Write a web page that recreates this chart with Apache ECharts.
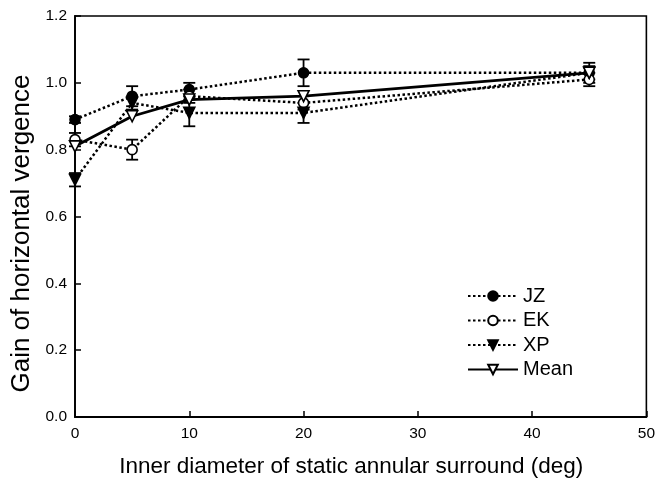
<!DOCTYPE html>
<html><head><meta charset="utf-8">
<script src="https://cdn.jsdelivr.net/npm/echarts@6/dist/echarts.min.js"></script>
<style>html,body{margin:0;padding:0;background:#fff}#c{width:658px;height:483px}</style>
</head><body><div id="c"></div>
<script>
const xs = [0, 5, 10, 20, 45];
const jz = [0.89, 0.96, 0.98, 1.03, 1.03];
const jzErr = [0.01, 0.03, 0.02, 0.04, 0.03];
const ek = [0.83, 0.80, 0.96, 0.94, 1.01];
const ekErr = [0.02, 0.03, 0.02, 0.02, 0.02];
const xp = [0.71, 0.94, 0.91, 0.91, 1.03];
const xpErr = [0.02, 0.02, 0.04, 0.03, 0.02];
const mean = [0.81, 0.90, 0.95, 0.96, 1.03];
const xTicks = [0, 10, 20, 30, 40, 50];
const yTicks = [0.0, 0.2, 0.4, 0.6, 0.8, 1.0, 1.2];

const FONT = 'Liberation Sans, Arial, sans-serif';
const pts = v => xs.map((x, i) => [x, v[i]]);
const errs = (v, e) => xs.map((x, i) => [x, v[i] - e[i], v[i] + e[i]]);

function errSeries(v, e) {
  return {
    type: 'custom', silent: true, z: 1,
    data: errs(v, e),
    renderItem: function (params, api) {
      const lo = api.coord([api.value(0), api.value(1)]);
      const hi = api.coord([api.value(0), api.value(2)]);
      const w = 6;
      const st = { stroke: '#000', lineWidth: 1.8 };
      return { type: 'group', children: [
        { type: 'line', shape: { x1: lo[0], y1: lo[1], x2: hi[0], y2: hi[1] }, style: st },
        { type: 'line', shape: { x1: lo[0] - w, y1: lo[1], x2: lo[0] + w, y2: lo[1] }, style: st },
        { type: 'line', shape: { x1: hi[0] - w, y1: hi[1], x2: hi[0] + w, y2: hi[1] }, style: st }
      ]};
    }
  };
}

function lineSeries(name, v, symbol, fill, dotted) {
  return {
    name: name, type: 'line', data: pts(v), z: 3,
    symbol: symbol, symbolSize: symbol === 'circle' ? 10 : 11,
    symbolRotate: symbol === 'triangle' ? 180 : 0,
    showAllSymbol: true,
    lineStyle: { color: '#000', width: dotted ? 2.5 : 2.8, type: dotted ? [2.5, 2.5] : 'solid' },
    itemStyle: { color: fill, borderColor: '#000', borderWidth: 1.6 },
    emphasis: { disabled: true },
    clip: false
  };
}

const chart = echarts.init(document.getElementById('c'), null, { renderer: 'canvas' });
chart.setOption({
  animation: false,
  grid: { left: 75, top: 16, right: 10, bottom: 66, show: true, borderColor: '#000', borderWidth: 1.6, backgroundColor: 'transparent' },
  xAxis: {
    type: 'value', min: 0, max: 50, interval: 10,
    name: 'Inner diameter of static annular surround (deg)', nameLocation: 'middle', nameGap: 38,
    nameTextStyle: { fontFamily: FONT, fontSize: 22.5, color: '#000', padding: [0, 19, 0, 0] },
    axisLine: { show: true, lineStyle: { color: '#000', width: 1.8 } },
    axisTick: { show: true, inside: true, length: 6, lineStyle: { color: '#000', width: 1.5 } },
    axisLabel: { fontFamily: FONT, fontSize: 15.5, color: '#000', margin: 9,
      formatter: v => xTicks.includes(v) ? String(v) : '' },
    splitLine: { show: false }
  },
  yAxis: {
    type: 'value', min: 0, max: 1.2, interval: 0.2,
    name: 'Gain of horizontal vergence', nameLocation: 'middle', nameGap: 37,
    nameTextStyle: { fontFamily: FONT, fontSize: 26, color: '#000', padding: [0, 34, 0, 0] },
    axisLine: { show: true, lineStyle: { color: '#000', width: 1.8 } },
    axisTick: { show: true, inside: true, length: 6, lineStyle: { color: '#000', width: 1.5 } },
    axisLabel: { fontFamily: FONT, fontSize: 15.5, color: '#000', margin: 8,
      formatter: v => yTicks.some(t => Math.abs(t - v) < 1e-9) ? v.toFixed(1) : '' },
    splitLine: { show: false }
  },
  legend: {
    orient: 'vertical', left: 462, top: 281, itemWidth: 50, itemHeight: 12, itemGap: 4.5,
    textStyle: { fontFamily: FONT, fontSize: 20, color: '#000' },
    data: ['JZ', 'EK', 'XP', 'Mean']
  },
  series: [
    errSeries(jz, jzErr),
    errSeries(ek, ekErr),
    errSeries(xp, xpErr),
    lineSeries('JZ', jz, 'circle', '#000', true),
    lineSeries('EK', ek, 'circle', '#fff', true),
    lineSeries('XP', xp, 'triangle', '#000', true),
    lineSeries('Mean', mean, 'triangle', '#fff', false)
  ]
});
</script></body></html>
